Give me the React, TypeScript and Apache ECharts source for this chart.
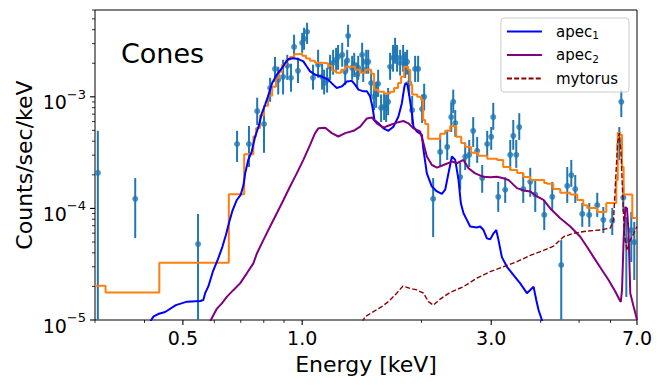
import React, { useEffect, useRef } from 'react';
import * as echarts from 'echarts';

const FONT = 'DejaVu Sans';

const X_MIN = 0.3;
const X_MAX = 7.0;
const Y_MIN = 1e-5;
const Y_MAX = 6e-3;

const xMajorTicks = [0.5, 1.0, 3.0, 7.0];
const xMajorLabels = ['0.5', '1.0', '3.0', '7.0'];
const xMinorTicks = [0.3, 0.4, 0.6, 0.7, 0.8, 0.9, 2, 4, 5, 6];
const yMajorTicks = [1e-5, 1e-4, 1e-3];
const yMajorExponents = ['−5', '−4', '−3'];
const yMinorTicks = [
  2e-5, 3e-5, 4e-5, 5e-5, 6e-5, 7e-5, 8e-5, 9e-5,
  2e-4, 3e-4, 4e-4, 5e-4, 6e-4, 7e-4, 8e-4, 9e-4,
  2e-3, 3e-3, 4e-3, 5e-3, 6e-3,
];

const legendNames = ['apec₁', 'apec₂', 'mytorus'];
const legendBase = ['apec', 'apec', 'mytorus'];
const legendSub = ['1', '2', ''];

// observed spectrum (energy in keV, counts/sec/keV, error-bar bounds)
const dataEnergy = [
  0.305, 0.379, 0.546, 0.685, 0.734, 0.770, 0.801, 0.830, 0.854, 0.870,
  0.895, 0.917, 0.937, 0.954, 0.976, 1.000, 1.011, 1.029, 1.065, 1.097,
  1.123, 1.136, 1.156, 1.176, 1.197, 1.218, 1.232, 1.262, 1.284, 1.299,
  1.306, 1.337, 1.353, 1.377, 1.385, 1.417, 1.426, 1.451, 1.468, 1.493,
  1.519, 1.537, 1.555, 1.582, 1.610, 1.629, 1.648, 1.667, 1.696, 1.716,
  1.736, 1.767, 1.798, 1.819, 1.840, 1.862, 1.895, 1.928, 1.962, 2.008,
  2.032, 2.141, 2.230, 2.323, 2.378, 2.406, 2.434, 2.505, 2.579, 2.640,
  2.702, 2.765, 2.847, 2.931, 3.000, 3.036, 3.125, 3.254, 3.351, 3.410,
  3.470, 3.531, 3.614, 3.764, 3.875, 4.083, 4.277, 4.507, 4.667, 4.778,
  4.890, 5.093, 5.304, 5.556, 5.755, 6.063, 6.315, 6.390, 6.465, 6.579,
  6.771, 6.890,
];
const dataRate = [
  2.08e-4, 1.22e-4, 4.79e-5, 3.78e-4, 3.78e-4, 7.44e-4, 5.71e-4, 1.20e-3, 1.78e-3, 1.42e-3,
  1.51e-3, 1.90e-3, 1.48e-3, 2.80e-3, 1.71e-3, 3.05e-3, 3.31e-3, 3.83e-3, 1.48e-3, 1.94e-3,
  1.51e-3, 1.33e-3, 1.42e-3, 1.86e-3, 2.02e-3, 2.15e-3, 2.28e-3, 2.38e-3, 1.68e-3, 2.11e-3,
  3.52e-3, 1.82e-3, 1.94e-3, 1.58e-3, 1.82e-3, 2.38e-3, 1.75e-3, 2.06e-3, 2.06e-3, 1.33e-3,
  1.00e-3, 1.05e-3, 1.31e-3, 7.97e-4, 8.13e-4, 7.97e-4, 9.02e-4, 1.86e-3, 2.24e-3, 2.64e-3,
  2.24e-3, 2.02e-3, 2.24e-3, 1.94e-3, 2.06e-3, 1.33e-3, 7.60e-4, 1.78e-3, 1.78e-3, 7.76e-4,
  1.00e-3, 1.22e-4, 3.21e-4, 3.56e-4, 6.58e-4, 9.02e-4, 5.83e-4, 1.91e-4, 2.90e-4, 3.02e-4,
  4.96e-4, 3.28e-4, 1.87e-4, 3.78e-4, 4.38e-4, 6.58e-4, 1.27e-4, 1.47e-4, 3.02e-4, 4.47e-4,
  3.02e-4, 5.36e-4, 1.49e-4, 1.73e-4, 1.33e-4, 8.75e-5, 1.27e-4, 3.11e-5, 1.59e-4, 1.99e-4,
  1.49e-4, 8.93e-5, 8.75e-5, 1.07e-4, 7.90e-5, 7.74e-5, 3.71e-4, 9.02e-4, 1.25e-4, 5.20e-5,
  6.40e-5, 4.99e-5,
];
const dataUpper = [
  4.96e-4, 1.87e-4, 8.93e-5, 4.96e-4, 5.48e-4, 9.83e-4, 7.97e-4, 1.48e-3, 2.28e-3, 1.86e-3,
  2.15e-3, 2.38e-3, 1.98e-3, 3.60e-3, 2.24e-3, 3.75e-3, 4.16e-3, 4.61e-3, 1.94e-3, 2.64e-3,
  1.98e-3, 1.75e-3, 1.82e-3, 2.38e-3, 2.64e-3, 2.75e-3, 2.92e-3, 3.05e-3, 2.15e-3, 2.64e-3,
  4.43e-3, 2.33e-3, 2.48e-3, 2.02e-3, 2.33e-3, 3.05e-3, 2.24e-3, 2.64e-3, 2.64e-3, 1.75e-3,
  1.31e-3, 1.36e-3, 1.75e-3, 1.05e-3, 1.07e-3, 1.05e-3, 1.20e-3, 2.48e-3, 2.92e-3, 3.38e-3,
  2.92e-3, 2.64e-3, 2.92e-3, 2.53e-3, 2.64e-3, 1.75e-3, 1.02e-3, 2.33e-3, 2.33e-3, 1.05e-3,
  1.31e-3, 1.87e-4, 4.56e-4, 5.06e-4, 8.83e-4, 1.16e-3, 7.60e-4, 2.56e-4, 3.86e-4, 4.11e-4,
  6.58e-4, 4.38e-4, 2.45e-4, 4.96e-4, 5.36e-4, 8.83e-4, 1.73e-4, 1.91e-4, 4.11e-4, 6.20e-4,
  4.11e-4, 7.14e-4, 2.08e-4, 2.31e-4, 1.80e-4, 1.19e-4, 1.73e-4, 5.20e-5, 2.35e-4, 2.72e-4,
  1.99e-4, 1.12e-4, 1.12e-4, 1.38e-4, 1.03e-4, 1.01e-4, 5.36e-4, 1.16e-3, 1.62e-4, 8.39e-5,
  9.31e-5, 7.58e-5,
];
const dataLower = [
  8.0e-6, 5.42e-5, 8.0e-6, 2.61e-4, 2.35e-4, 5.59e-4, 3.15e-4, 9.02e-4, 1.36e-3, 1.05e-3,
  1.05e-3, 1.42e-3, 1.11e-3, 2.24e-3, 1.33e-3, 2.48e-3, 2.64e-3, 2.98e-3, 1.16e-3, 1.48e-3,
  1.16e-3, 1.05e-3, 1.09e-3, 1.42e-3, 1.58e-3, 1.68e-3, 1.75e-3, 1.86e-3, 1.28e-3, 1.68e-3,
  2.80e-3, 1.42e-3, 1.51e-3, 1.20e-3, 1.42e-3, 1.86e-3, 1.36e-3, 1.61e-3, 1.61e-3, 1.02e-3,
  7.60e-4, 7.97e-4, 1.00e-3, 5.95e-4, 6.20e-4, 5.95e-4, 6.85e-4, 1.42e-3, 1.68e-3, 1.98e-3,
  1.68e-3, 1.55e-3, 1.68e-3, 1.48e-3, 1.58e-3, 1.02e-3, 5.71e-4, 1.36e-3, 1.36e-3, 5.83e-4,
  7.60e-4, 5.54e-5, 2.35e-4, 2.72e-4, 4.85e-4, 7.14e-4, 4.38e-4, 1.47e-4, 2.21e-4, 2.35e-4,
  3.56e-4, 2.56e-4, 1.38e-4, 2.90e-4, 3.35e-4, 5.06e-4, 9.31e-5, 1.12e-4, 2.21e-4, 3.35e-4,
  2.31e-4, 4.11e-4, 1.12e-4, 1.27e-4, 9.31e-5, 6.40e-5, 9.70e-5, 8.0e-6, 1.12e-4, 1.56e-4,
  1.12e-4, 6.84e-5, 6.84e-5, 8.39e-5, 6.01e-5, 5.77e-5, 2.72e-4, 6.58e-4, 9.31e-5, 1.61e-5,
  3.31e-5, 2.28e-5,
];

// total model, drawn as a histogram (bin left edge, value)
const totalModel = [
  [0.300, 2.03e-5], [0.319, 1.76e-5], [0.436, 3.26e-5], [0.653, 1.34e-4], [0.714, 3.06e-4],
  [0.753, 4.40e-4], [0.765, 5.25e-4], [0.783, 6.85e-4], [0.801, 8.30e-4], [0.820, 1.02e-3],
  [0.840, 1.23e-3], [0.859, 1.48e-3], [0.875, 1.68e-3], [0.890, 1.94e-3], [0.911, 2.15e-3],
  [0.932, 2.28e-3], [0.954, 2.41e-3], [0.976, 2.43e-3], [1.000, 2.33e-3], [1.023, 2.21e-3],
  [1.047, 2.11e-3], [1.078, 2.02e-3], [1.123, 2.00e-3], [1.163, 1.90e-3], [1.190, 1.71e-3],
  [1.218, 1.64e-3], [1.254, 1.75e-3], [1.284, 1.86e-3], [1.322, 1.86e-3], [1.361, 1.75e-3],
  [1.401, 1.64e-3], [1.442, 1.75e-3], [1.493, 1.61e-3], [1.519, 1.16e-3], [1.555, 1.11e-3],
  [1.610, 1.07e-3], [1.667, 1.11e-3], [1.706, 1.20e-3], [1.746, 1.33e-3], [1.777, 1.51e-3],
  [1.809, 1.86e-3], [1.851, 1.75e-3], [1.873, 1.28e-3], [1.895, 1.05e-3], [1.951, 1.00e-3],
  [1.997, 9.40e-4], [2.020, 6.20e-4], [2.044, 5.71e-4], [2.080, 4.20e-4], [2.230, 4.66e-4],
  [2.296, 4.96e-4], [2.364, 5.48e-4], [2.448, 4.38e-4], [2.520, 3.86e-4], [2.579, 3.56e-4],
  [2.670, 3.15e-4], [2.781, 2.96e-4], [2.931, 2.78e-4], [3.107, 2.72e-4], [3.217, 2.35e-4],
  [3.351, 2.21e-4], [3.490, 2.08e-4], [3.614, 1.91e-4], [3.764, 1.80e-4], [3.920, 1.80e-4],
  [4.083, 1.69e-4], [4.155, 1.66e-4], [4.302, 1.49e-4], [4.481, 1.38e-4], [4.750, 1.33e-4],
  [4.947, 1.19e-4], [5.123, 1.07e-4], [5.243, 1.01e-4], [5.556, 9.31e-5], [5.856, 1.12e-4],
  [6.206, 1.80e-4], [6.260, 4.76e-4], [6.353, 4.56e-4], [6.416, 2.35e-4], [6.476, 1.33e-4],
  [6.811, 8.22e-5], [7.000, 8.22e-5],
];

const apec1Model = [
  [0.413, 9.6e-6], [0.421, 1.07e-5], [0.433, 1.13e-5], [0.451, 1.18e-5], [0.480, 1.36e-5],
  [0.512, 1.46e-5], [0.553, 1.48e-5], [0.563, 1.51e-5], [0.569, 1.74e-5], [0.580, 2.01e-5],
  [0.595, 2.71e-5], [0.612, 3.45e-5], [0.629, 4.53e-5], [0.642, 5.77e-5], [0.654, 7.47e-5],
  [0.667, 9.56e-5], [0.684, 1.19e-4], [0.700, 1.33e-4], [0.711, 1.62e-4], [0.718, 2.06e-4],
  [0.731, 2.72e-4], [0.746, 3.23e-4], [0.761, 4.41e-4], [0.776, 5.40e-4], [0.791, 7.10e-4],
  [0.806, 8.48e-4], [0.820, 1.01e-3], [0.840, 1.33e-3], [0.863, 1.58e-3], [0.889, 1.81e-3],
  [0.906, 2.01e-3], [0.923, 2.18e-3], [0.950, 2.22e-3], [0.978, 2.18e-3], [1.007, 2.08e-3],
  [1.027, 1.87e-3], [1.047, 1.69e-3], [1.078, 1.58e-3], [1.121, 1.52e-3], [1.165, 1.42e-3],
  [1.199, 1.28e-3], [1.223, 1.20e-3], [1.259, 1.24e-3], [1.297, 1.37e-3], [1.335, 1.39e-3],
  [1.361, 1.28e-3], [1.387, 1.16e-3], [1.428, 1.12e-3], [1.457, 1.12e-3], [1.484, 1.01e-3],
  [1.504, 8.19e-4], [1.522, 6.20e-4], [1.557, 5.79e-4], [1.604, 5.22e-4], [1.651, 4.96e-4],
  [1.699, 5.40e-4], [1.749, 6.62e-4], [1.785, 8.78e-4], [1.812, 1.24e-3], [1.824, 1.33e-3],
  [1.844, 1.28e-3], [1.865, 1.01e-3], [1.892, 7.10e-4], [1.909, 5.40e-4], [1.947, 4.89e-4],
  [2.005, 4.56e-4], [2.024, 3.35e-4], [2.064, 2.06e-4], [2.125, 1.57e-4], [2.188, 1.42e-4],
  [2.252, 1.35e-4], [2.296, 1.47e-4], [2.340, 2.06e-4], [2.387, 2.92e-4], [2.434, 2.72e-4],
  [2.481, 1.80e-4], [2.515, 1.11e-4], [2.554, 9.06e-5], [2.604, 7.90e-5], [2.655, 6.88e-5],
  [2.760, 6.74e-5], [2.814, 6.88e-5], [2.869, 6.40e-5], [2.926, 5.39e-5], [2.983, 5.28e-5],
  [3.041, 5.98e-5], [3.089, 6.40e-5], [3.130, 5.20e-5], [3.192, 3.66e-5], [3.287, 3.00e-5],
  [3.416, 2.53e-5], [3.551, 2.13e-5], [3.692, 1.74e-5], [3.764, 1.86e-5], [3.837, 1.99e-5],
  [3.898, 1.51e-5], [3.950, 1.23e-5], [4.028, 1.00e-5], [4.059, 9.0e-6],
];

const apec2Model = [
  [0.585, 9.6e-6], [0.594, 1.07e-5], [0.608, 1.25e-5], [0.627, 1.41e-5], [0.646, 1.62e-5],
  [0.671, 1.86e-5], [0.697, 2.13e-5], [0.725, 2.62e-5], [0.753, 3.22e-5], [0.768, 3.92e-5],
  [0.798, 5.20e-5], [0.830, 6.88e-5], [0.863, 9.06e-5], [0.897, 1.19e-4], [0.932, 1.57e-4],
  [0.969, 2.06e-4], [1.007, 2.72e-4], [1.047, 3.71e-4], [1.078, 4.73e-4], [1.099, 5.22e-4],
  [1.143, 5.29e-4], [1.188, 4.73e-4], [1.234, 4.41e-4], [1.284, 4.73e-4], [1.348, 4.96e-4],
  [1.401, 5.40e-4], [1.457, 6.40e-4], [1.499, 6.54e-4], [1.543, 5.79e-4], [1.604, 5.29e-4],
  [1.667, 5.59e-4], [1.733, 5.87e-4], [1.801, 6.07e-4], [1.854, 5.79e-4], [1.909, 5.22e-4],
  [1.985, 4.89e-4], [2.024, 3.84e-4], [2.064, 2.92e-4], [2.125, 2.45e-4], [2.188, 2.32e-4],
  [2.273, 2.45e-4], [2.387, 2.63e-4], [2.458, 2.54e-4], [2.554, 2.72e-4], [2.629, 2.29e-4],
  [2.733, 2.06e-4], [2.869, 1.92e-4], [2.983, 1.90e-4], [3.101, 1.92e-4], [3.222, 1.86e-4],
  [3.317, 1.80e-4], [3.484, 1.52e-4], [3.620, 1.45e-4], [3.764, 1.42e-4], [3.913, 1.28e-4],
  [4.066, 1.19e-4], [4.228, 1.00e-4], [4.481, 8.17e-5], [4.750, 6.88e-5], [5.034, 5.57e-5],
  [5.234, 4.53e-5], [5.439, 3.66e-5], [5.711, 2.81e-5], [5.934, 2.28e-5], [6.170, 1.80e-5],
  [6.326, 1.51e-5], [6.371, 1.45e-5], [6.416, 1.86e-5], [6.476, 5.20e-5], [6.540, 1.03e-4],
  [6.605, 1.00e-4], [6.667, 5.98e-5], [6.732, 1.74e-5], [6.863, 1.32e-5], [6.971, 1.07e-5],
  [7.000, 1.00e-5],
];

const mytorusModel = [
  [1.417, 9.6e-6], [1.442, 1.07e-5], [1.513, 1.19e-5], [1.589, 1.32e-5], [1.651, 1.46e-5],
  [1.733, 1.74e-5], [1.795, 2.01e-5], [1.873, 1.92e-5], [1.947, 1.86e-5], [2.024, 1.74e-5],
  [2.083, 1.46e-5], [2.145, 1.36e-5], [2.230, 1.54e-5], [2.364, 1.77e-5], [2.554, 1.99e-5],
  [2.760, 2.37e-5], [2.983, 2.71e-5], [3.222, 3.00e-5], [3.484, 3.33e-5], [3.764, 3.79e-5],
  [4.066, 4.20e-5], [4.310, 4.59e-5], [4.568, 5.57e-5], [4.842, 5.98e-5], [5.234, 6.27e-5],
  [5.655, 6.40e-5], [5.993, 6.66e-5], [6.109, 7.90e-5], [6.170, 1.57e-4], [6.253, 3.84e-4],
  [6.315, 4.73e-4], [6.379, 3.13e-4], [6.439, 1.37e-4], [6.502, 5.98e-5], [6.605, 4.20e-5],
  [6.732, 5.20e-5], [6.863, 5.98e-5], [7.000, 6.88e-5],
];

const DATA_COLOR = '#1f77b4';

export default function App() {
  const ref = useRef<HTMLDivElement>(null);

  useEffect(() => {
    if (!ref.current) return;
    const chart = echarts.init(ref.current, null, { renderer: 'svg' });

    const xTickData = [
      ...xMajorTicks.map((v) => [v, Y_MIN, 1]),
      ...xMinorTicks.map((v) => [v, Y_MIN, 0]),
    ];
    const yTickData = [
      ...yMajorTicks.map((v) => [X_MIN, v, 1]),
      ...yMinorTicks.map((v) => [X_MIN, v, 0]),
    ];

    const option: any = {
      animation: false,
      title: {
        text: 'Cones',
        left: 121,
        top: 40,
        padding: 0,
        textStyle: { fontSize: 27, fontWeight: 'normal', color: '#000', fontFamily: FONT },
      },
      legend: {
        data: legendNames,
        orient: 'vertical',
        right: 33,
        top: 18,
        itemWidth: 35,
        itemHeight: 14,
        itemGap: 7,
        padding: [6, 11, 6, 5],
        backgroundColor: 'rgba(255,255,255,0.8)',
        borderColor: '#cccccc',
        borderWidth: 1,
        borderRadius: 3,
        selectedMode: false,
        itemStyle: { opacity: 0 },
        formatter: (name: string) => {
          const i = legendNames.indexOf(name);
          return legendSub[i]
            ? '{a|' + legendBase[i] + '}{s|' + legendSub[i] + '}'
            : '{a|' + legendBase[i] + '}';
        },
        textStyle: {
          fontSize: 15,
          fontFamily: FONT,
          color: '#000',
          padding: [0, 0, 0, 9],
          rich: {
            a: { fontSize: 15, fontFamily: FONT, color: '#000', lineHeight: 18, verticalAlign: 'middle' },
            s: { fontSize: 10.5, fontFamily: FONT, color: '#000', lineHeight: 10, verticalAlign: 'bottom' },
          },
        },
      },
      grid: {
        left: 95,
        right: 25,
        top: 10,
        bottom: 65,
        show: true,
        borderColor: '#000',
        borderWidth: 1,
        backgroundColor: 'transparent',
      },
      xAxis: {
        type: 'log',
        logBase: 10,
        min: X_MIN,
        max: X_MAX,
        name: 'Energy [keV]',
        nameLocation: 'middle',
        nameGap: 33,
        nameTextStyle: { fontSize: 22, color: '#000', fontFamily: FONT },
        axisLine: { show: false },
        axisTick: { show: false },
        axisLabel: { show: false },
        splitLine: { show: false },
      },
      yAxis: {
        type: 'log',
        logBase: 10,
        min: Y_MIN,
        max: Y_MAX,
        name: 'Counts/sec/keV',
        nameLocation: 'middle',
        nameGap: 60,
        nameTextStyle: { fontSize: 22, color: '#000', fontFamily: FONT },
        axisLine: { show: false },
        axisTick: { show: false },
        axisLabel: { show: false },
        splitLine: { show: false },
      },
      series: [
        {
          type: 'custom',
          name: 'errorbars',
          coordinateSystem: 'cartesian2d',
          clip: true,
          silent: true,
          data: dataEnergy.map((e, i) => [e, dataLower[i], dataUpper[i]]),
          encode: { x: 0, y: [1, 2] },
          renderItem: (params: any, api: any) => {
            const lo = api.coord([api.value(0), api.value(1)]);
            const hi = api.coord([api.value(0), api.value(2)]);
            return {
              type: 'line',
              shape: { x1: lo[0], y1: lo[1], x2: hi[0], y2: hi[1] },
              style: { stroke: DATA_COLOR, lineWidth: 2 },
            };
          },
        },
        {
          type: 'scatter',
          name: 'data',
          silent: true,
          symbol: 'circle',
          symbolSize: 6,
          itemStyle: { color: DATA_COLOR },
          data: dataEnergy.map((e, i) => [e, dataRate[i]]),
        },
        {
          type: 'line',
          name: 'total',
          step: 'end',
          symbol: 'none',
          silent: true,
          data: totalModel,
          lineStyle: { color: '#ff7f0e', width: 2 },
          itemStyle: { color: '#ff7f0e' },
        },
        {
          type: 'line',
          name: 'apec₁',
          symbol: 'none',
          silent: true,
          data: apec1Model,
          lineStyle: { color: '#0000ff', width: 2 },
          itemStyle: { color: '#0000ff' },
        },
        {
          type: 'line',
          name: 'apec₂',
          symbol: 'none',
          silent: true,
          data: apec2Model,
          lineStyle: { color: '#800080', width: 2 },
          itemStyle: { color: '#800080' },
        },
        {
          type: 'line',
          name: 'mytorus',
          symbol: 'none',
          silent: true,
          data: mytorusModel,
          lineStyle: { color: '#8b0000', width: 1.4, type: [5, 2.2] },
          itemStyle: { color: '#8b0000' },
        },
        {
          type: 'custom',
          name: 'xticks',
          coordinateSystem: 'cartesian2d',
          clip: false,
          silent: true,
          data: xTickData,
          renderItem: (params: any, api: any) => {
            const p = api.coord([api.value(0), Y_MIN]);
            const major = api.value(2) === 1;
            const len = major ? 5 : 3;
            const children: any[] = [
              {
                type: 'line',
                shape: { x1: p[0], y1: p[1], x2: p[0], y2: p[1] + len },
                style: { stroke: '#000', lineWidth: major ? 1.1 : 0.8 },
              },
            ];
            if (major) {
              children.push({
                type: 'text',
                x: p[0],
                y: p[1] + 8,
                style: {
                  text: xMajorLabels[params.dataIndex],
                  fill: '#000',
                  fontSize: 19,
                  fontFamily: FONT,
                  align: 'center',
                  verticalAlign: 'top',
                },
              });
            }
            return { type: 'group', children };
          },
        },
        {
          type: 'custom',
          name: 'yticks',
          coordinateSystem: 'cartesian2d',
          clip: false,
          silent: true,
          data: yTickData,
          renderItem: (params: any, api: any) => {
            const p = api.coord([X_MIN, api.value(1)]);
            const major = api.value(2) === 1;
            const len = major ? 5 : 3;
            const children: any[] = [
              {
                type: 'line',
                shape: { x1: p[0] - len, y1: p[1], x2: p[0], y2: p[1] },
                style: { stroke: '#000', lineWidth: major ? 1.1 : 0.8 },
              },
            ];
            if (major) {
              children.push({
                type: 'text',
                x: p[0] - 9,
                y: p[1] + 3,
                style: {
                  text: '{b|10}{e|' + yMajorExponents[params.dataIndex] + '}',
                  align: 'right',
                  verticalAlign: 'middle',
                  rich: {
                    b: { fontSize: 19, fontFamily: FONT, fill: '#000', lineHeight: 24, verticalAlign: 'bottom' },
                    e: { fontSize: 13, fontFamily: FONT, fill: '#000', lineHeight: 13, verticalAlign: 'top' },
                  },
                },
              });
            }
            return { type: 'group', children };
          },
        },
      ],
    };

    chart.setOption(option);
    return () => chart.dispose();
  }, []);

  return (
    <div
      ref={ref}
      style={{ position: 'fixed', left: 0, top: 0, width: 662, height: 385, background: '#fff' }}
    />
  );
}
